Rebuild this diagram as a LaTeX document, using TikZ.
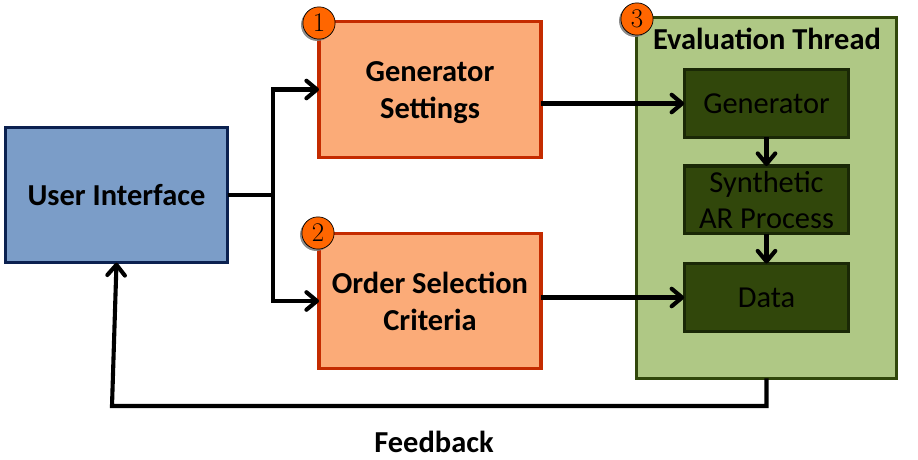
\documentclass[tikz,border=0pt]{standalone}
\usepackage{fontspec}
\newfontfamily\boxfont{Carlito}
\usetikzlibrary{arrows.meta,shadows}
\definecolor{uifill}{HTML}{7B9DC8}
\definecolor{uiline}{HTML}{0B2150}
\definecolor{setfill}{HTML}{FBAB78}
\definecolor{setline}{HTML}{C42B00}
\definecolor{evalfill}{HTML}{AFC885}
\definecolor{evalline}{HTML}{31470B}
\definecolor{stepfill}{HTML}{31470B}
\definecolor{stepline}{HTML}{1A2806}
\definecolor{badgefill}{HTML}{FF6600}
\tikzset{
	every node/.style={inner sep=0pt,outer sep=0pt,align=center},
	boldtext/.style={font=\fontsize{26}{31.5}\selectfont\boxfont\bfseries},
	plaintext/.style={font=\fontsize{26}{31.5}\selectfont\boxfont},
	uibox/.style={draw=uiline,fill=uifill,line width=2.6pt,minimum width=189.5pt,minimum height=115.6pt,boldtext},
	setbox/.style={draw=setline,fill=setfill,line width=2.6pt,minimum width=189.5pt,minimum height=115.6pt,boldtext},
	evalbox/.style={draw=evalline,fill=evalfill,line width=2.6pt,minimum width=222pt,minimum height=308pt},
	stepbox/.style={draw=stepline,fill=stepfill,line width=2.6pt,minimum width=140.5pt,minimum height=58pt,plaintext},
	badge/.style={circle,draw=black,fill=badgefill,line width=.6pt,minimum size=27.5pt,font=\fontsize{23}{23}\selectfont,
		drop shadow={shadow xshift=-1.6pt,shadow yshift=-1.6pt,opacity=.9}},
	link/.style={line width=3.5pt,-{Straight Barb[length=9pt,width=15pt,line width=3.5pt,round]}},
	plainlink/.style={line width=3.5pt},
}
\begin{document}
\begin{tikzpicture}[x=0.03cm,y=-0.03cm]
	\useasboundingbox (0,0) rectangle (918,460);
	\node[uibox] (ui) at (116.5,195) {User Interface};
	\node[setbox] (gs) at (430,89.5) {\rule{0pt}{22pt}Generator\\Settings};
	\node[setbox] (os) at (430,301) {Order Selection\\Criteria};
	\node[evalbox] (et) at (766.5,198) {};
	\node[boldtext] (ettitle) at (767,39) {Evaluation Thread};
	\node[stepbox] (gen) at (766.5,103.5) {Generator};
	\node[stepbox] (syn) at (766.5,200) {Synthetic\\AR Process};
	\node[stepbox] (data) at (766.5,297.5) {Data};
	\node[badge] (b1) at (319,23) {1};
	\node[badge] (b2) at (318,233) {2};
	\node[badge] (b3) at (637,19) {3};
	\node[boldtext] (fb) at (434,442) {Feedback};
	\coordinate (split) at (273,195);
	\coordinate (fbcorner) at (112,406);
	\draw[plainlink] (ui.east) -- (split);
	\draw[link] (split) |- (gs.west);
	\draw[link] (split) |- (os.west);
	\draw[link] (gs.east |- gen.west) -- (gen.west);
	\draw[link] (os.east |- data.west) -- (data.west);
	\draw[link] (gen.south) -- (syn.north);
	\draw[link] (syn.south) -- (data.north);
	\draw[link] (et.south) |- (fbcorner) -- (ui.south);
\end{tikzpicture}
\end{document}
